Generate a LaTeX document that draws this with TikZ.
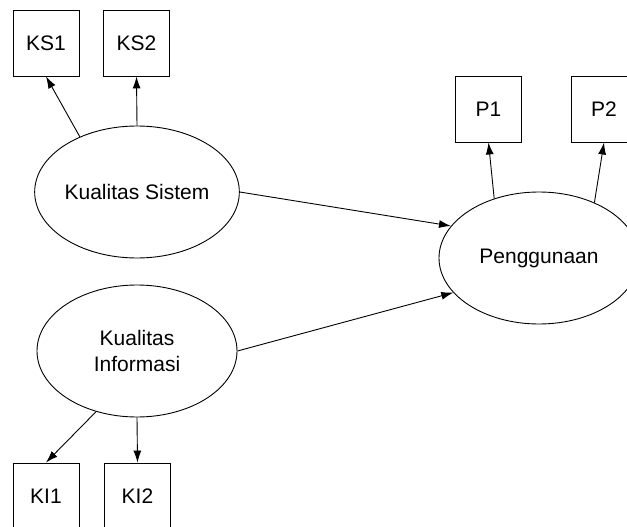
\documentclass[tikz,border=0pt]{standalone}
\usepackage{fontspec}
\setmainfont{Liberation Sans}
\usetikzlibrary{shapes.geometric,arrows.meta}
\begin{document}
\begin{tikzpicture}[x=1pt,y=-1pt,
  font=\fontsize{21}{26}\selectfont,
  latent/.style={draw,line width=0.9pt,ellipse,minimum width=200pt,minimum height=132pt,inner sep=0pt,align=center},
  manifest/.style={draw,line width=0.9pt,rectangle,minimum width=66pt,minimum height=66pt,inner sep=0pt},
  link/.style={line width=0.9pt,-{Latex[length=12pt,width=8pt]}}]
\useasboundingbox (0,0) rectangle (627,527);
\node[manifest] (ks1) at (46,43) {KS1};
\node[manifest] (ks2) at (136.5,43) {KS2};
\node[manifest] (p1) at (488.5,109) {P1};
\node[manifest] (p2) at (604,109) {P2};
\node[manifest] (ki1) at (46,496) {KI1};
\node[manifest] (ki2) at (137.5,496) {KI2};
\node[latent] (ks) at (137,192) {Kualitas Sistem};
\node[latent] (ki) at (137,351) {Kualitas\\Informasi};
\node[latent] (pg) at (539,258) {Penggunaan};
\draw[link] (ks.136) -- (ks1.south);
\draw[link] (ks.north) -- (ks2.south);
\draw[link] (ki.236) -- (ki1.north);
\draw[link] (ki.south) -- (ki2.north);
\draw[link] (ks.east) -- (pg.160);
\draw[link] (ki.east) -- (pg.202);
\draw[link] (pg.127) -- (p1.south);
\draw[link] (pg.45) -- (p2.south);
\end{tikzpicture}
\end{document}
